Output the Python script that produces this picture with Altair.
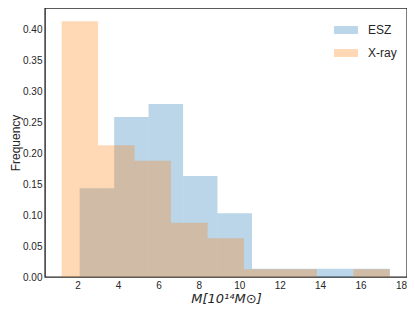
import altair as alt
import pandas as pd

esz_edges = [2.10, 3.81, 5.51, 7.22, 8.92, 10.63, 12.34, 14.04, 15.75, 17.45]
esz_freq = [0.143, 0.258, 0.279, 0.163, 0.103, 0.0134, 0.0134, 0.0134, 0.0134]
xray_edges = [1.21, 3.01, 4.82, 6.62, 8.43, 10.23, 12.04, 13.84, 15.65, 17.45]
xray_freq = [0.4125, 0.2125, 0.1875, 0.0875, 0.0625, 0.0125, 0.0125, 0.0, 0.0125]

rows = []
for i, f in enumerate(esz_freq):
    rows.append({"lo": esz_edges[i], "hi": esz_edges[i + 1], "freq": f, "sample": "ESZ", "ord": 0})
for i, f in enumerate(xray_freq):
    rows.append({"lo": xray_edges[i], "hi": xray_edges[i + 1], "freq": f, "sample": "X-ray", "ord": 1})
df = pd.DataFrame(rows)

font = "Liberation Sans"
H = 269

chart = alt.Chart(df).mark_rect(fillOpacity=0.3, strokeWidth=0).encode(
    x=alt.X("lo:Q",
            scale=alt.Scale(domain=[0.385, 18.3], nice=False, zero=False),
            axis=alt.Axis(values=list(range(2, 19, 2)), title="M[10¹⁴M⊙]",
                          titleFontStyle="italic", titleFont="DejaVu Sans",
                          titleFontWeight="normal", titleFontSize=13, titlePadding=2,
                          titleColor="#262626",
                          labelFontSize=10, labelFont=font, labelColor="#262626",
                          ticks=False, domain=False, grid=False, labelPadding=3)),
    x2="hi:Q",
    y=alt.Y("freq:Q",
            scale=alt.Scale(domain=[0, 0.434], nice=False),
            axis=alt.Axis(values=[0, 0.05, 0.1, 0.15, 0.2, 0.25, 0.3, 0.35, 0.4], format=".2f",
                          title="Frequency", titleFont=font, titleFontWeight="normal",
                          titleFontSize=12, titleColor="#262626",
                          titleX=-30, titleY=H / 2, titleAngle=270,
                          titleAlign="center", titleBaseline="middle",
                          labelFontSize=10, labelFont=font, labelColor="#262626",
                          ticks=False, domain=False, grid=False, labelPadding=3)),
    y2=alt.datum(0),
    color=alt.Color("sample:N",
                    scale=alt.Scale(domain=["ESZ", "X-ray"], range=["#1f77b4", "#ff7f0e"]),
                    legend=alt.Legend(title=None, orient="top-right", offset=10,
                                      symbolType="M-1,-0.33L1,-0.33L1,0.33L-1,0.33Z",
                                      symbolSize=576, symbolOpacity=0.3, symbolStrokeWidth=0,
                                      labelFontSize=12, labelFont=font, labelColor="#262626",
                                      rowPadding=5, labelOffset=10)),
    order=alt.Order("ord:Q"),
).properties(
    width=362, height=H,
    autosize=alt.AutoSizeParams(type="none"),
    padding={"left": 37, "top": 0, "right": 0, "bottom": 29},
).configure_view(stroke="#262626", strokeWidth=1.4)

chart.save("out.html", embed_options={"renderer": "svg", "actions": False})
